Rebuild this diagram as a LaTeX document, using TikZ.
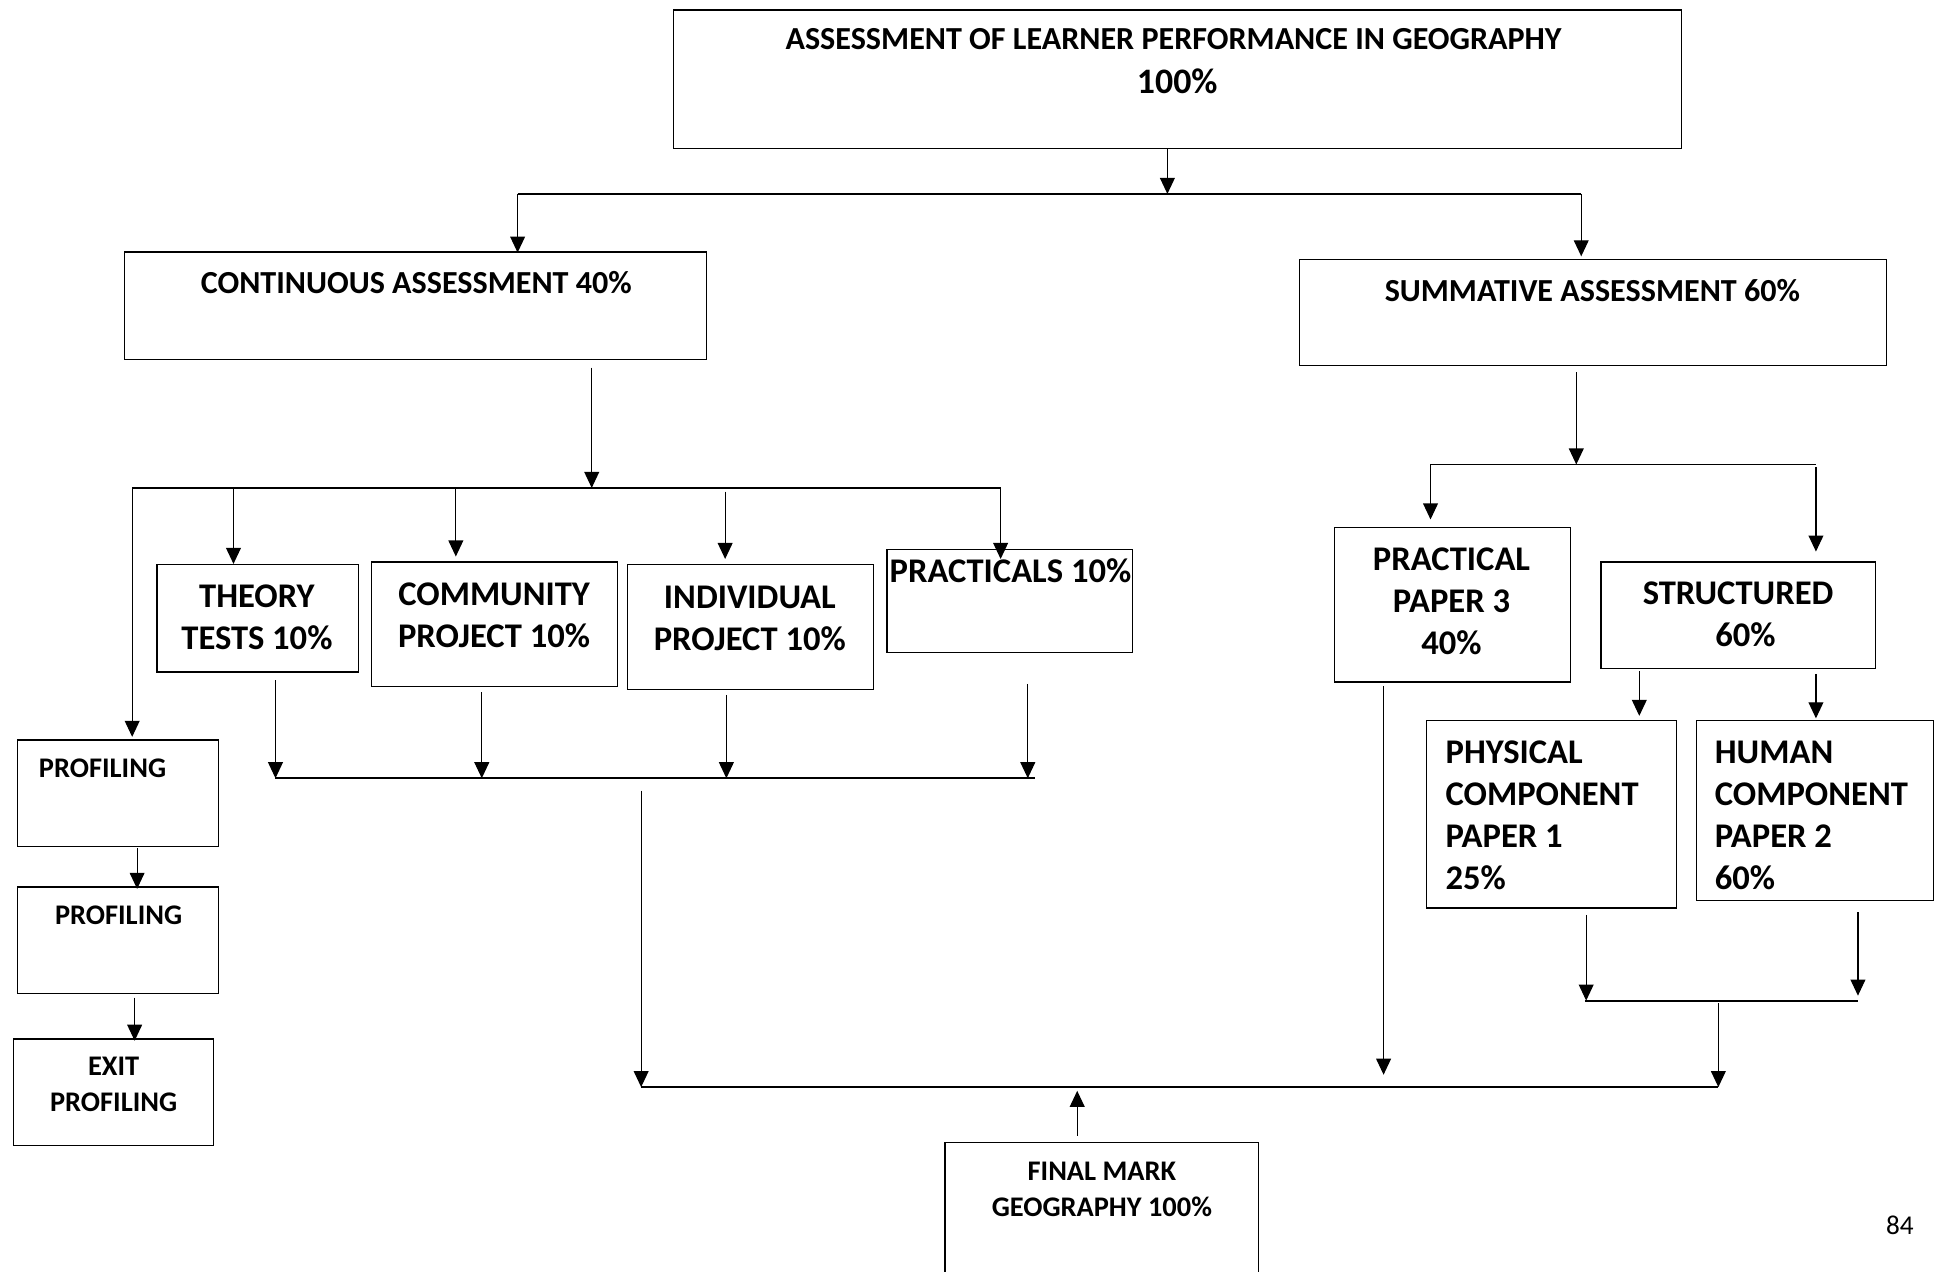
\documentclass[tikz,border=0pt]{standalone}
\usepackage{fontspec}
\setmainfont{Carlito}
\usetikzlibrary{arrows.meta}
\tikzset{
  box/.style={draw, line width=1pt, inner sep=0pt},
  lbl/.style={font=\bfseries\fontsize{26}{34}\selectfont, inner sep=0pt, align=center},
  lblbig/.style={font=\bfseries\fontsize{28}{34}\selectfont, inner sep=0pt, align=center},
  lblsmall/.style={font=\bfseries\fontsize{23}{29}\selectfont, inner sep=0pt, align=center},
  arr/.style={-{Triangle[length=13pt,width=12pt]}, line width=1pt},
  bar/.style={line width=1.4pt}
}

\begin{document}
\begin{tikzpicture}[x=1pt,y=-1pt]
\useasboundingbox (0,0) rectangle (1568,1029);

\node[box, minimum width=816pt, minimum height=112pt] (top) at (953,64) {};
\node[lbl] (top-t) at (950,32) {ASSESSMENT OF LEARNER PERFORMANCE IN GEOGRAPHY};
\node[lbl, font=\bfseries\fontsize{29}{34}\selectfont] (top-p) at (953,66) {100\%};

\node[box, minimum width=471pt, minimum height=87pt] (ca) at (336.5,247.5) {};
\node[lbl] (ca-t) at (337,229) {CONTINUOUS ASSESSMENT 40\%};
\node[box, minimum width=475pt, minimum height=86pt] (sa) at (1289.5,253) {};
\node[lbl] (sa-t) at (1289,235) {SUMMATIVE ASSESSMENT 60\%};

\node[box, minimum width=163pt, minimum height=87pt] (theory) at (208.5,500.5) {};
\node[lblbig] (theory-t) at (208,500) {THEORY\\TESTS 10\%};
\node[box, minimum width=199pt, minimum height=101pt] (comm) at (400.5,505.5) {};
\node[lblbig] (comm-t) at (400,498) {COMMUNITY\\PROJECT 10\%};
\node[box, minimum width=199pt, minimum height=101pt] (indiv) at (607.5,507.5) {};
\node[lblbig] (indiv-t) at (607,500.5) {INDIVIDUAL\\PROJECT 10\%};
\node[box, minimum width=199pt, minimum height=83pt] (pract) at (817.5,486.5) {};
\node[lblbig] (pract-t) at (818,462) {PRACTICALS 10\%};

\node[box, minimum width=163pt, minimum height=86pt] (prof1) at (95.5,642) {};
\node[lblsmall] (prof1-t) at (83,622) {PROFILING};
\node[box, minimum width=163pt, minimum height=86pt] (prof2) at (95.5,761) {};
\node[lblsmall] (prof2-t) at (96,741) {PROFILING};
\node[box, minimum width=162pt, minimum height=86pt] (exit) at (92,884) {};
\node[lblsmall] (exit-t) at (92,878) {EXIT\\PROFILING};

\node[box, minimum width=191pt, minimum height=125pt] (pp3) at (1175.5,489.5) {};
\node[lblbig] (pp3-t) at (1175,487) {PRACTICAL\\PAPER 3\\40\%};
\node[box, minimum width=222pt, minimum height=86pt] (struct) at (1407,498) {};
\node[lblbig] (struct-t) at (1407,497) {STRUCTURED\\\hspace*{12pt}60\%};
\node[box, minimum width=202pt, minimum height=152pt] (phys) at (1256,659) {};
\node[lblbig, align=left, anchor=west] (phys-t) at (1170,660) {PHYSICAL\\COMPONENT\\PAPER 1\\25\%};
\node[box, minimum width=192pt, minimum height=146pt] (human) at (1469,656) {};
\node[lblbig, align=left, anchor=west] (human-t) at (1388,660) {HUMAN\\COMPONENT\\PAPER 2\\60\%};

\node[box, minimum width=254pt, minimum height=115pt] (final) at (892,982.5) {};
\node[lblsmall] (final-t) at (892,962.5) {FINAL MARK\\GEOGRAPHY 100\%};

\node[font=\fontsize{22}{26}\selectfont, inner sep=0pt] (page) at (1538,992) {84};

\coordinate (j1l) at (419,157);
\coordinate (j1m) at (945,157);
\coordinate (j1r) at (1280,157);
\draw[bar] (j1l) -- (j1r);
\draw[arr] (top.south -| j1m) -- (j1m);
\draw[arr] (j1l) -- ([yshift=-1]ca.north -| j1l);
\draw[arr] (j1r) -- ([yshift=2]sa.north -| j1r);

\coordinate (j2l) at (107,395);
\coordinate (j2a) at (189,395);
\coordinate (j2b) at (369,395);
\coordinate (j2m) at (479,395);
\coordinate (j2c) at (587,398);
\coordinate (j2r) at (810,395);
\draw[bar] (j2l) -- (j2r);
\draw[arr] ([yshift=-6]ca.south -| j2m) -- (j2m);
\draw[arr] (j2l) -- ([yshift=2]prof1.north -| j2l);
\draw[arr] (j2a) -- (theory.north -| j2a);
\draw[arr] (j2b) -- ([yshift=4]comm.north -| j2b);
\draw[arr] (j2c) -- ([yshift=4]indiv.north -| j2c);
\draw[arr] (j2r) -- ([yshift=-8]pract.north -| j2r);

\coordinate (j3a) at (223,630);
\coordinate (j3b) at (390,630);
\coordinate (j3c) at (588,630);
\coordinate (j3d) at (832,630);
\coordinate (j3m) at (519,640);
\draw[bar] (j3a) -- (838,630);
\draw[arr] ([yshift=-6]theory.south -| j3a) -- (j3a);
\draw[arr] ([yshift=-4]comm.south -| j3b) -- (j3b);
\draw[arr] ([yshift=-4]indiv.south -| j3c) -- (j3c);
\draw[arr] ([yshift=-25]pract.south -| j3d) -- (j3d);

\coordinate (p1) at (111,0);
\coordinate (p2) at (109,0);
\draw[arr] ([yshift=-1]prof1.south -| p1) -- ([yshift=-2]prof2.north -| p1);
\draw[arr] ([yshift=-3]prof2.south -| p2) -- ([yshift=-2]exit.north -| p2);

\coordinate (j6l) at (1158,376);
\coordinate (j6m) at (1276,376);
\coordinate (j6r) at (1470,376);
\coordinate (s1) at (1327,0);
\draw[bar] (j6l) -- (j6r);
\draw[arr] ([yshift=-5]sa.south -| j6m) -- (j6m);
\draw[arr] (j6l) -- ([yshift=6]pp3.north -| j6l);
\draw[arr] ([yshift=-2]j6r) -- ([yshift=8]struct.north -| j6r);
\draw[arr] ([yshift=-2]struct.south -| s1) -- ([yshift=3]phys.north -| s1);
\draw[arr] ([yshift=-4]struct.south -| j6r) -- ([yshift=1]human.north -| j6r);

\coordinate (j5l) at (1284,810);
\coordinate (j5m) at (1391,812);
\coordinate (j5r) at (1504,806);
\draw[bar] (1283,810) -- (1504,810);
\draw[arr] ([yshift=-5]phys.south -| j5l) -- (j5l);
\draw[arr] ([yshift=-9]human.south -| j5r) -- (j5r);

\coordinate (j4l) at (519,880);
\coordinate (j4p) at (1120,870);
\coordinate (j4r) at (1391,880);
\coordinate (j4f) at (872,883);
\draw[bar] (j4l) -- (j4r);
\draw[arr] (j3m) -- (j4l);
\draw[arr] ([yshift=-3]pp3.south -| j4p) -- (j4p);
\draw[arr] (j5m) -- (j4r);
\draw[arr] ([yshift=5]final.north -| j4f) -- (j4f);
\end{tikzpicture}
\end{document}
